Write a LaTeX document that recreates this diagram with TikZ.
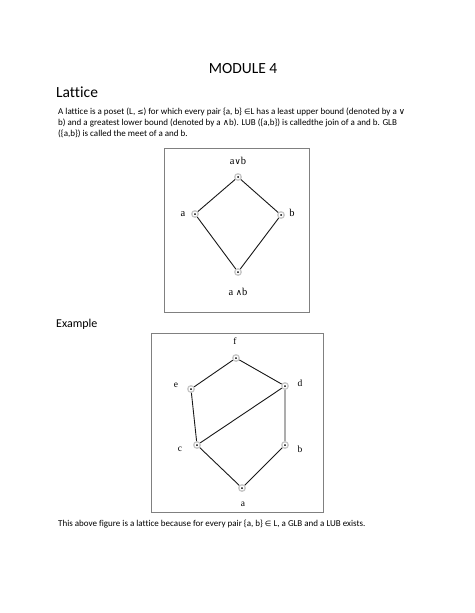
\documentclass[tikz,border=0pt]{standalone}
\usepackage{fontspec}
\setmainfont[Ligatures={NoCommon}]{Carlito}
\newfontfamily\symf{DejaVu Sans}
\newfontfamily\serf{Liberation Serif}
\begin{document}
\begin{tikzpicture}[x=1pt,y=-1pt,
  body/.style={anchor=base west,inner sep=0pt,font=\fontsize{9}{11}\selectfont},
  frame/.style={draw=black!50,line width=0.9pt},
  vtx/.style={circle,fill=white,draw=black!22,line width=1.3pt,minimum size=6.5pt,inner sep=0pt,path picture={\fill[black] (path picture bounding box.center) circle (1pt);}},
  edge/.style={draw=black!90,line width=0.9pt},
  lbl/.style={inner sep=0pt,font=\serf\fontsize{10.5}{12}\selectfont}]
\useasboundingbox[fill=white] (0,0) rectangle (474,613);
\node[inner sep=0pt,font=\fontsize{15.5}{18}\selectfont,anchor=base] (title) at (243,73) {MODULE 4};
\node[inner sep=0pt,font=\fontsize{15.5}{18}\selectfont,anchor=base west] (lat) at (56,97) {Lattice};
\node[body] (l1) at (58,114) {A lattice is a poset (L, {\symf\fontsize{7.5}{9}\selectfont≤}) for which every pair \{a, b\} {\symf\fontsize{7.5}{9}\selectfont∈}L has a least upper bound (denoted by a {\symf\fontsize{8.5}{9}\selectfont∨}};
\node[body] (l2) at (58,125) {b) and a greatest lower bound (denoted by a {\symf\fontsize{8.5}{9}\selectfont∧}b). LUB (\{a,b\}) is calledthe join of a and b. GLB};
\node[body] (l3) at (58,136) {(\{a,b\}) is called the meet of a and b.};
% box 1
\draw[frame] (164,148) rectangle (309,312);
\node[vtx] (t) at (238,177) {};
\node[vtx] (a1) at (195,214) {};
\node[vtx] (b1) at (281,215) {};
\node[vtx] (m) at (238,272) {};
\draw[edge] (t) -- (a1) -- (m) -- (b1) -- (t);
\node[lbl] (lt) at (238,161) {a{\symf\fontsize{8.5}{9}\selectfont∨}b};
\node[lbl] (la1) at (183,214) {a};
\node[lbl] (lb1) at (292,213) {b};
\node[lbl] (lm) at (238,292) {a {\symf\fontsize{8.5}{9}\selectfont∧}b};
% Example
\node[inner sep=0pt,font=\fontsize{12}{15}\selectfont,anchor=base west] (ex) at (56,327) {Example};
\draw[frame] (151,333) rectangle (323,512);
\node[vtx] (f) at (236,358) {};
\node[vtx] (e) at (191,389) {};
\node[vtx] (d) at (285,386) {};
\node[vtx] (c) at (197,445) {};
\node[vtx] (b) at (285,445) {};
\node[vtx] (a) at (242,488) {};
\draw[edge] (f) -- (e) -- (c) -- (a) -- (b) -- (d) -- (f);
\draw[edge] (c) -- (d);
\node[lbl,font=\serf\fontsize{9.5}{11}\selectfont] (lf) at (235,341) {f};
\node[lbl,font=\serf\fontsize{9.5}{11}\selectfont] (le) at (176,385) {e};
\node[lbl,font=\serf\fontsize{9.5}{11}\selectfont] (ld) at (300,383) {d};
\node[lbl,font=\serf\fontsize{9.5}{11}\selectfont] (lc) at (180,449) {c};
\node[lbl,font=\serf\fontsize{9.5}{11}\selectfont] (lb) at (300,449) {b};
\node[lbl,font=\serf\fontsize{9.5}{11}\selectfont] (la) at (243,504) {a};
\node[body] (bot) at (58,526) {This above figure is a lattice because for every pair \{a, b\} {\symf\fontsize{7.5}{9}\selectfont∈} L, a GLB and a LUB exists.};
\end{tikzpicture}
\end{document}
